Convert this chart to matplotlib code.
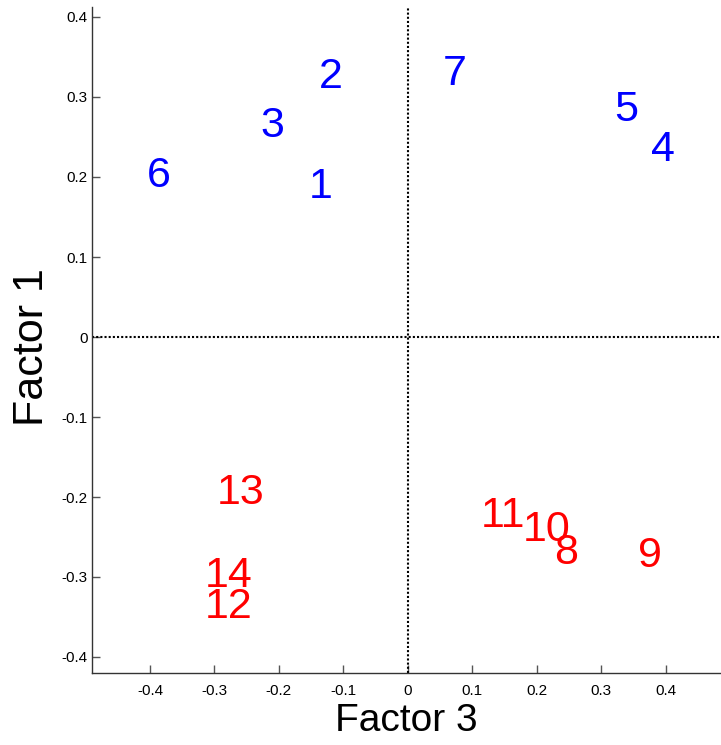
import matplotlib
matplotlib.use("Agg")
import matplotlib.pyplot as plt

# --- data (text anchor = left edge, vertical middle) ---
blue_labels = ["1", "2", "3", "4", "5", "6", "7"]
blue_x = [-0.154, -0.138, -0.228, 0.378, 0.321, -0.405, 0.054]
blue_y = [0.188, 0.325, 0.264, 0.234, 0.284, 0.201, 0.329]

red_labels = ["8", "9", "10", "11", "12", "13", "14"]
red_x = [0.227, 0.357, 0.179, 0.114, -0.315, -0.297, -0.315]
red_y = [-0.270, -0.274, -0.241, -0.224, -0.337, -0.195, -0.299]

x_ticks = [-0.4, -0.3, -0.2, -0.1, 0, 0.1, 0.2, 0.3, 0.4]
y_ticks = [-0.4, -0.3, -0.2, -0.1, 0, 0.1, 0.2, 0.3, 0.4]
x_tick_labels = ["-0.4", "-0.3", "-0.2", "-0.1", "0", "0.1", "0.2", "0.3", "0.4"]
y_tick_labels = ["-0.4", "-0.3", "-0.2", "-0.1", "0", "0.1", "0.2", "0.3", "0.4"]

plt.rcParams["font.family"] = ["Liberation Sans", "DejaVu Sans"]

fig = plt.figure(figsize=(7.21, 7.45), dpi=100)
ax = fig.add_axes([92 / 721, 72 / 745, 628 / 721, 666 / 745])

for lab, x, y in zip(blue_labels, blue_x, blue_y):
    ax.text(x, y, lab, color="blue", fontsize=31, ha="left", va="center")
for lab, x, y in zip(red_labels, red_x, red_y):
    ax.text(x, y, lab, color="red", fontsize=31, ha="left", va="center")

# dotted zero lines
ax.axhline(0, color="black", linestyle=(0, (1, 1)), linewidth=1.5)
ax.axvline(0, color="black", linestyle=(0, (1, 1)), linewidth=1.5)

ax.set_xlim(-0.49, 0.4845)
ax.set_ylim(-0.42, 0.4125)
ax.set_xticks(x_ticks)
ax.set_xticklabels(x_tick_labels)
ax.set_yticks(y_ticks)
ax.set_yticklabels(y_tick_labels)
ax.tick_params(direction="in", length=6, width=1, color="#555555", labelsize=11)
ax.tick_params(axis="x", pad=8)
ax.tick_params(axis="y", pad=3)
ax.spines["top"].set_visible(False)
ax.spines["right"].set_visible(False)
for s in ["left", "bottom"]:
    ax.spines[s].set_color("#333333")
    ax.spines[s].set_linewidth(1)

ax.set_xlabel("Factor 3", fontsize=28)
ax.set_ylabel("Factor 1", fontsize=31)
ax.xaxis.set_label_coords(0.5 - 0.0, (673 - 703) / 666)
ax.yaxis.set_label_coords((52 - 92) / 628, (673 - 347) / 666)

fig.savefig("out.png", dpi=100)
